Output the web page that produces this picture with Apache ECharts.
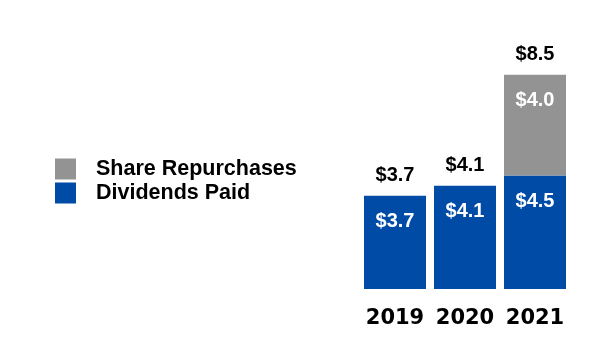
<!DOCTYPE html>
<html>
<head>
<meta charset="utf-8">
<script src="https://cdn.jsdelivr.net/npm/echarts@6/dist/echarts.min.js"></script>
<style>
html,body{margin:0;padding:0;background:#fff;}
#c{width:600px;height:358px;}
</style>
</head>
<body>
<div id="c"></div>
<script>
var years = ['2019', '2020', '2021'];
var dividendsPaid = [3.7, 4.1, 4.5];
var shareRepurchases = [0, 0, 4.0];
var totals = [3.7, 4.1, 8.5];

var BLUE = '#004BA6';
var GRAY = '#939393';
var fmt = function (p) { return p.value ? '$' + Number(p.value).toFixed(1) : ''; };

var chart = echarts.init(document.getElementById('c'));
chart.setOption({
  animation: false,
  backgroundColor: '#ffffff',
  legend: {
    orient: 'vertical',
    left: 55,
    top: 158,
    padding: 0,
    itemWidth: 21,
    itemHeight: 21,
    itemGap: 2,
    icon: 'rect',
    data: ['Share Repurchases', 'Dividends Paid'],
    textStyle: {
      fontFamily: 'Liberation Sans, Arial, sans-serif',
      fontWeight: 'bold',
      fontSize: 21.5,
      color: '#000',
      padding: [0, 0, 0, 15]
    }
  },
  grid: { left: 360, right: 30, top: 37, bottom: 69 },
  xAxis: {
    type: 'category',
    data: years,
    axisLine: { show: false },
    axisTick: { show: false },
    axisLabel: {
      interval: 0,
      margin: 19,
      fontFamily: 'DejaVu Sans, sans-serif',
      fontWeight: 'bold',
      fontSize: 21,
      color: '#000'
    }
  },
  yAxis: {
    type: 'value',
    min: 0,
    max: 10,
    show: false,
    splitLine: { show: false }
  },
  series: [
    {
      name: 'Dividends Paid',
      type: 'bar',
      stack: 'a',
      barWidth: 62,
      data: dividendsPaid,
      itemStyle: { color: BLUE },
      label: {
        show: true,
        position: 'insideTop',
        distance: 16,
        formatter: fmt,
        color: '#fff',
        fontFamily: 'Liberation Sans, Arial, sans-serif',
        fontWeight: 'bold',
        fontSize: 20
      }
    },
    {
      name: 'Share Repurchases',
      type: 'bar',
      stack: 'a',
      barWidth: 62,
      data: shareRepurchases,
      itemStyle: { color: GRAY },
      label: {
        show: true,
        position: 'insideTop',
        distance: 16,
        formatter: fmt,
        color: '#fff',
        fontFamily: 'Liberation Sans, Arial, sans-serif',
        fontWeight: 'bold',
        fontSize: 20
      }
    },
    {
      name: 'Total',
      type: 'bar',
      barWidth: 62,
      barGap: '-100%',
      z: 0,
      silent: true,
      data: totals,
      itemStyle: { color: 'rgba(0,0,0,0)' },
      label: {
        show: true,
        position: 'top',
        distance: 10,
        formatter: fmt,
        color: '#000',
        fontFamily: 'Liberation Sans, Arial, sans-serif',
        fontWeight: 'bold',
        fontSize: 20
      }
    }
  ]
});
</script>
</body>
</html>
